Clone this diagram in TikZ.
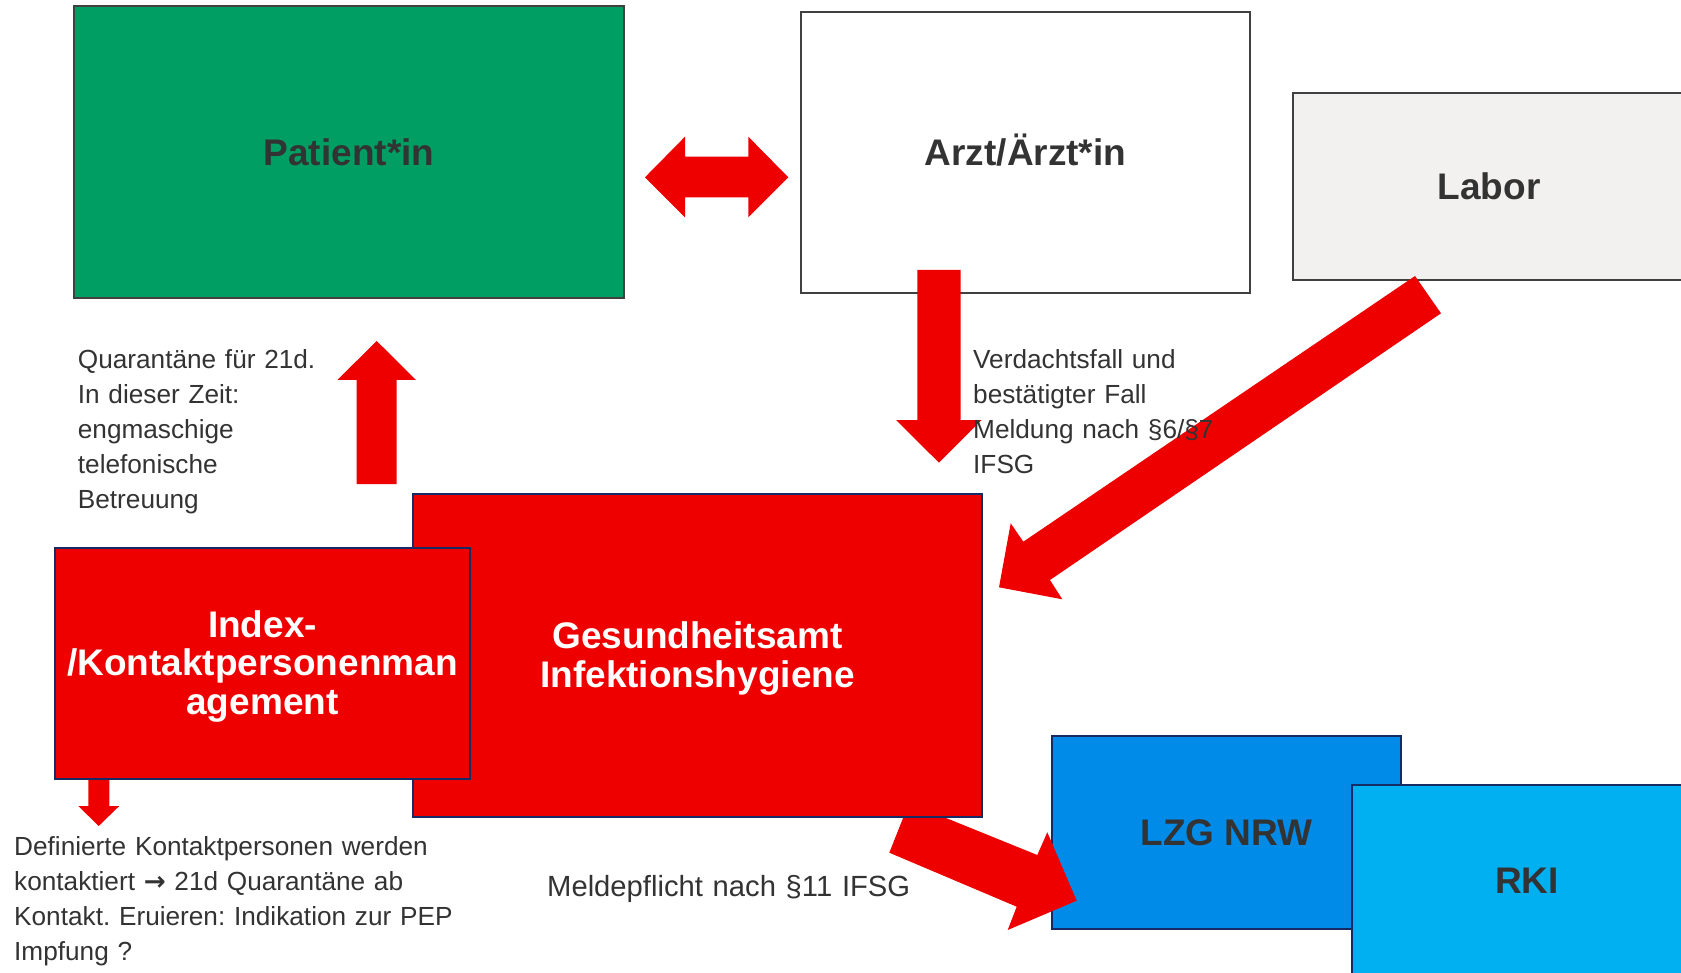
\documentclass[tikz,border=0pt]{standalone}
\usepackage{fontspec}
\setmainfont{Liberation Sans}
\newfontfamily\arrowfont{DejaVu Sans}
\frenchspacing
\definecolor{pgreen}{RGB}{0,158,98}
\definecolor{pred}{RGB}{238,0,0}
\definecolor{plabor}{RGB}{242,241,240}
\definecolor{plzg}{RGB}{0,139,232}
\definecolor{prki}{RGB}{0,176,240}
\definecolor{pnavy}{RGB}{22,42,100}
\definecolor{pgray}{RGB}{64,64,64}
\definecolor{ptext}{RGB}{51,51,51}
\tikzset{
  box/.style={rectangle, draw=pgray, line width=2.4pt, inner sep=0pt, align=center,
    font=\fontsize{37}{38.5}\selectfont\bfseries, text=ptext},
  onebox/.style={box, text height=26.5pt, text depth=0pt},
  redbox/.style={box, draw=pnavy, fill=pred, text=white},
  redtext/.style={inner sep=0pt, align=center, font=\fontsize{37}{38.5}\selectfont\bfseries, text=white},
  bluebox/.style={onebox, draw=pnavy, line width=2.2pt},
  blockarrow/.style={fill=pred, draw=none},
  note/.style={anchor=base west, inner sep=0pt, align=left, text width=520pt,
    font=\fontsize{26.2}{35}\selectfont, text=ptext}
}
\begin{document}
\begin{tikzpicture}[x=1pt,y=-1pt]
\clip (0,0) rectangle (1681,973);
\fill[white] (0,0) rectangle (1681,973);

% top row boxes
\node[onebox, fill=plabor, minimum width=392pt, minimum height=187pt] (labor) at (1489,186.5) {Labor};
\node[onebox, fill=white, minimum width=449pt, minimum height=281pt] (arzt) at (1025.5,152.5) {Arzt/Ärzt*in};
\node[onebox, fill=pgreen, minimum width=550pt, minimum height=292pt] (patient) at (349,152) {Patient*in};

% double arrow Patient <-> Arzt
\fill[blockarrow] (645,177.3) -- (685,136.7) -- (685,156.7) -- (748.3,156.7) -- (748.3,136.7)
  -- (788.3,177.3) -- (748.3,217.3) -- (748.3,197.3) -- (685,197.3) -- (685,217.3) -- cycle;

% down arrow from Arzt
\fill[blockarrow] (917.3,270) -- (960.7,270) -- (960.7,420) -- (981.7,420) -- (939,462.7)
  -- (896,420) -- (917.3,420) -- cycle;

% arrow from Labor
\fill[blockarrow] (1415,276) -- (1023.3,541.7) -- (1010.7,523.3) -- (999,587.3)
  -- (1062.3,599.3) -- (1050,580) -- (1441,313.3) -- cycle;

% up arrow to Patient
\fill[blockarrow] (376.7,341) -- (416,380) -- (396.7,380) -- (396.7,484) -- (356.7,484)
  -- (356.7,380) -- (337.3,380) -- cycle;

% blue boxes
\node[bluebox, fill=plzg, minimum width=349pt, minimum height=193pt] (lzg) at (1226.5,832.5) {LZG NRW};
\node[bluebox, fill=prki, minimum width=350pt, minimum height=190pt] (rki) at (1527,880) {RKI};

% arrow to LZG (behind Gesundheitsamt, over LZG)
\fill[blockarrow] (909,803) -- (1037.3,855) -- (1047.3,832.3) -- (1076.7,900.7)
  -- (1007.7,930) -- (1016.7,906.7) -- (889.3,852.7) -- cycle;

% small arrow below Index
\fill[blockarrow] (88.3,776) -- (109.3,776) -- (109.3,806) -- (119.3,806) -- (98.7,826)
  -- (78.3,806) -- (88.3,806) -- cycle;

% red boxes
\node[redbox, minimum width=569pt, minimum height=323pt] (ga) at (697.5,655.5) {};
\node[redtext] (gatext) at ([yshift=-3.2pt]ga.center) {Gesundheitsamt\\Infektionshygiene};
\node[redbox, minimum width=415pt, minimum height=231pt] (index) at (262.5,663.5) {};
\node[redtext] (indextext) at ([yshift=-3pt]index.center) {Index-\\/Kontaktpersonenman\\agement};

% notes
\node[note] (quar) at (77.7,368.5) {Quarantäne für 21d.\\In dieser Zeit:\\engmaschige\\telefonische\\Betreuung};
\node[note] (verd) at (973,368.3) {Verdachtsfall und\\bestätigter Fall\\Meldung nach §6/§7\\IFSG};
\node[note] (def) at (14,855) {Definierte Kontaktpersonen werden\\kontaktiert {\arrowfont\bfseries →} 21d Quarantäne ab\\Kontakt. Eruieren: Indikation zur PEP\\Impfung ?};
\node[note, font=\fontsize{29.2}{34}\selectfont] (meld) at (547,896) {Meldepflicht nach §11 IFSG};
\end{tikzpicture}
\end{document}
